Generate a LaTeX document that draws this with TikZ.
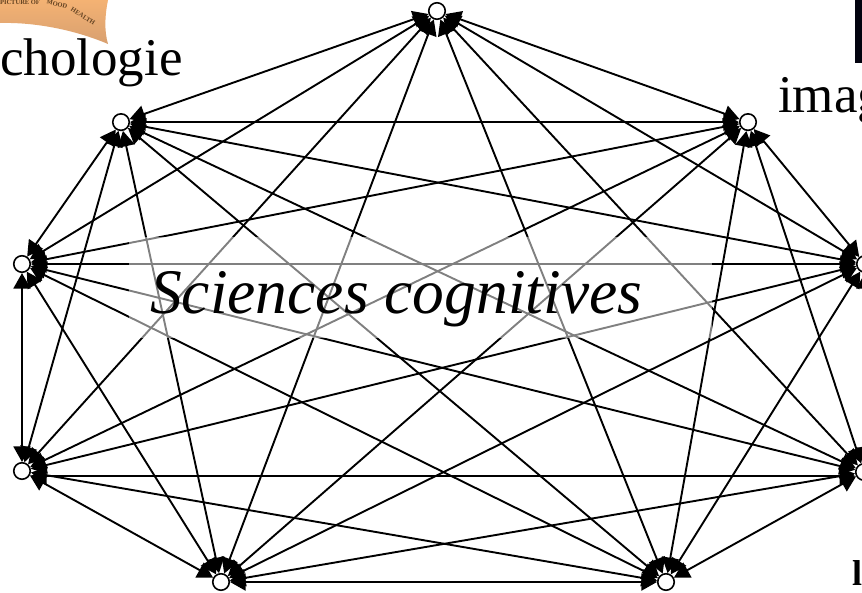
\documentclass[tikz,border=0pt]{standalone}
\usepackage{fontspec}
\setmainfont{Liberation Serif}
\usetikzlibrary{arrows.meta,shadings}
\definecolor{patch}{HTML}{F4B273}
\definecolor{patchdark}{HTML}{D8A070}
\definecolor{navybar}{HTML}{02030F}
\tikzset{
  x=1pt,y=-1pt,
  vertex/.style={circle,draw=black,fill=white,line width=1.6pt,inner sep=0pt,minimum size=16.5pt},
  link/.style={line width=1.9pt,draw=black,{Triangle[length=15.5pt,width=17pt]}-{Triangle[length=15.5pt,width=17pt]}},
  bigtext/.style={font=\fontsize{53}{53}\selectfont,anchor=base west,inner sep=0pt},
  covertext/.style={font=\fontsize{63.5}{64}\selectfont\itshape,anchor=base west,inner sep=0pt},
  patchtext/.style={font=\fontsize{6.5}{6.5}\selectfont\bfseries,text=brown!50!black,inner sep=0pt}
}
\begin{document}
\begin{tikzpicture}
\useasboundingbox (0,0) rectangle (862,592);
\clip (0,0) rectangle (862,592);
% picture fragments
\shade[left color=patch,right color=patchdark,shading angle=0]
  (0,0) -- (108,0) .. controls (105,15) and (104,30) .. (108,44)
  .. controls (80,32) and (40,22) .. (0,23) -- cycle;
\node[patchtext] (w1) at (20,2) {PICTURE OF};
\node[patchtext,rotate=-14] (w2) at (57,4) {MOOD};
\node[patchtext,rotate=-32] (w3) at (83,16) {HEALTH};
\fill[navybar] (855,0) rectangle (862,63);
% vertices
\node[vertex] (T)  at (437,11)  {};
\node[vertex] (UL) at (121,122.1) {};
\node[vertex] (UR) at (748,122.1) {};
\node[vertex] (L)  at (22,264) {};
\node[vertex] (R)  at (865,264) {};
\node[vertex] (LL) at (22,471) {};
\node[vertex] (LR) at (864,472) {};
\node[vertex] (BL) at (221,582) {};
\node[vertex] (BR) at (666,582) {};
\coordinate (LLa) at (31,476);
\coordinate (LRa) at (855,476);
% all connectors, both ways
\foreach \a/\others in {
  T/{UL,UR,L,R,LL,LR,BL,BR},
  UL/{UR,L,R,LL,LR,BL,BR},
  UR/{L,R,LL,LR,BL,BR},
  L/{R,LL,LR,BL,BR},
  R/{LL,LR,BL,BR},
  LL/{BL,BR},
  LR/{BL,BR},
  BL/{BR}}{
  \foreach \b in \others {\draw[link] (\a) -- (\b);}
}
\draw[link] (LLa) -- (LRa);
% translucent caption box
\fill[white,opacity=.5] (129,237) rectangle (712,338);
\node[covertext] (title) at (150,313) {Sciences cognitives};
\node[bigtext] (psy) at (0,75) {chologie};
\node[bigtext] (img) at (778,112) {imag};
\node[bigtext,font=\fontsize{36}{36}\selectfont\bfseries] (lin) at (852,585) {l};
\end{tikzpicture}
\end{document}
